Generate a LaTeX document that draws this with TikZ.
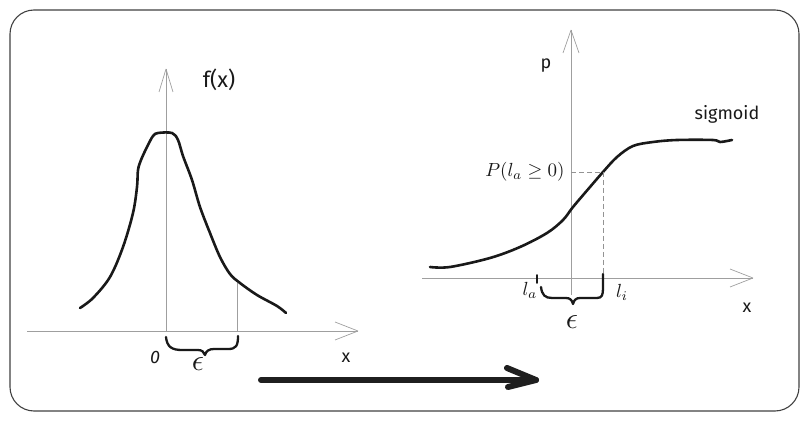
\documentclass[tikz,border=0pt]{standalone}
\usepackage{fontspec}
\setmainfont{Fira Sans}
\usetikzlibrary{calc}
\begin{document}
\begin{tikzpicture}[x=1pt,y=-1pt,
  axis/.style={draw=gray!75, line width=0.9pt},
  barb/.style={draw=gray!75, line width=0.7pt},
  curve/.style={draw=black!90, line width=2.6pt, line cap=round, line join=round},
  bracestyle/.style={draw=black!90, line width=2.3pt, line cap=round, line join=round},
  guide/.style={draw=gray!85, line width=0.8pt, dash pattern=on 5pt off 3pt},
  thin/.style={draw=gray!75, line width=0.8pt},
  hand/.style={font=\fontsize{18}{20}\selectfont, text=black!90, inner sep=0pt},
  epsstyle/.style={font=\fontsize{10}{12}\selectfont, scale=3, text=black!90, inner sep=0pt},
  mathlbl/.style={font=\fontsize{10}{12}\selectfont, scale=1.9, text=black!90, inner sep=0pt},
  bigarrow/.style={draw=black!88, line width=6pt, line cap=round, line join=round}]
\useasboundingbox (0,0) rectangle (809,422);
\draw[draw=black!75, line width=1.1pt, rounded corners=24pt] (10,10) rectangle (799,411);

% ---------- left plot ----------
\coordinate (lo) at (166,331);
\coordinate (lxs) at (27,331);
\coordinate (lxe) at (358,331);
\coordinate (lye) at (166,69);
\draw[axis] (lxs) -- (lxe);
\draw[barb] (lxe) -- ++(-23,-9) (lxe) -- ++(-23,9);
\draw[axis] (lo) -- (lye);
\draw[barb] (lye) -- ++(-7,23) (lye) -- ++(7,23);
\draw[curve] plot[smooth, tension=0.55] coordinates {
 (80,308) (93,298) (110,277) (123,247) (133,213) (137,187) (138,170)
 (141,160) (147,147) (153,136) (158,133) (172,133) (178,140) (183,156)
 (192,180) (200,207) (210,233) (220,257) (230,274) (240,283) (257,295)
 (277,306) (286,313)};
\draw[thin] (237,283) -- (237,331);
\draw[bracestyle] (166,337) .. controls (167,347) and (172,350) .. (182,350)
  -- (198,350) .. controls (202,350) and (204,352) .. (205,355)
  .. controls (206,351) and (209,349) .. (214,349) -- (228,349)
  .. controls (236,349) and (238,346) .. (238,336);
\node[hand] (zero) at (155,357) {\itshape 0};
\node[epsstyle] (epsl) at (198,364) {$\epsilon$};
\node[hand] (xl) at (346,358) {x};
\node[hand, font=\fontsize{22}{24}\selectfont] (fx) at (219,80) {f(x)};

% ---------- right plot ----------
\coordinate (ro) at (571,278);
\coordinate (rxs) at (422,278);
\coordinate (rxe) at (753,278);
\coordinate (rys) at (571,295);
\coordinate (rye) at (571,30);
\draw[axis] (rxs) -- (rxe);
\draw[barb] (rxe) -- ++(-23,-9) (rxe) -- ++(-23,9);
\draw[axis] (rys) -- (rye);
\draw[barb] (rye) -- ++(-8,23) (rye) -- ++(8,23);
\draw[curve] plot[smooth, tension=0.55] coordinates {
 (430,267) (450,267) (490,258) (520,247) (547,233) (563,220) (573,207)
 (590,187) (603,172) (617,157) (633,146) (653,142) (677,140) (713,140)
 (720,142) (732,140)};
\coordinate (pt) at (603,172);
\coordinate (py) at (571,172);
\coordinate (px) at (603,278);
\draw[guide] (py) -- (pt) -- (px);
\draw[bracestyle, line width=1.8pt] (537,275) -- (537,283);
\draw[bracestyle] (541,287) .. controls (542,295) and (545,298) .. (552,298)
  -- (566,298) .. controls (570,298) and (572,300) .. (573,304)
  .. controls (574,300) and (576,298) .. (580,298) -- (597,298)
  .. controls (602,298) and (603,295) .. (603,288) -- (603,274);
\node[mathlbl, anchor=east] (plbl) at (565,172) {$P(l_a \geq 0)$};
\node[mathlbl] (la) at (530,290) {$l_a$};
\node[mathlbl] (li) at (622,292) {$l_i$};
\node[epsstyle] (epsr) at (572,322) {$\epsilon$};
\node[hand] (xr) at (747,308) {x};
\node[hand] (p) at (546,66) {p};
\node[hand] (sig) at (727,114) {sigmoid};

% ---------- big arrow ----------
\coordinate (as) at (261,380);
\coordinate (ae) at (536,380);
\draw[bigarrow] (as) -- (ae);
\draw[bigarrow] (507,368) -- (ae) -- (508,387);
\end{tikzpicture}
\end{document}
